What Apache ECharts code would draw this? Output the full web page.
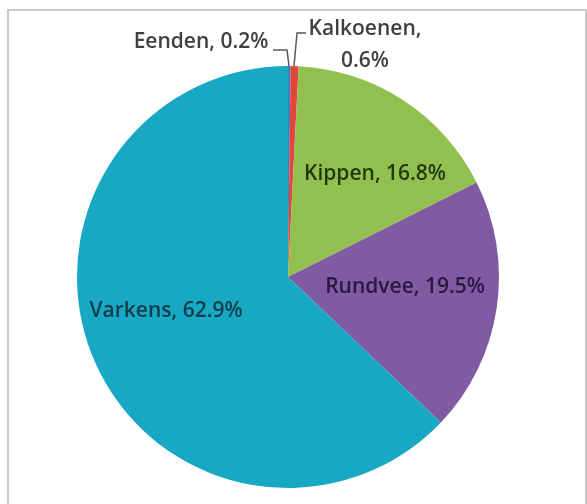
<!DOCTYPE html>
<html><head><meta charset="utf-8">
<script src="https://cdn.jsdelivr.net/npm/echarts@6/dist/echarts.min.js"></script>
<style>html,body{margin:0;padding:0;background:#fff}#c{width:587px;height:504px}</style>
</head><body><div id="c"></div>
<script>
const categories = ['Eenden', 'Kalkoenen', 'Kippen', 'Rundvee', 'Varkens'];
const values = [0.2, 0.6, 16.8, 19.5, 62.9];

const colors = ['#3d7fc0', '#e0463a', '#92c050', '#805aa2', '#18a8c4'];
const labelColors = ['#404040', '#404040', '#1f3a0e', '#2a1840', '#0f3d4c'];
const outsideLabels = ['Eenden', 'Kalkoenen'];
const labelPositions = { Eenden: [201, 42], Kalkoenen: [365, 45], Kippen: [375, 174], Rundvee: [405, 287], Varkens: [166, 311] };
const leaderLines = { Eenden: [[289, 66], [287, 50], [273, 50]], Kalkoenen: [[294, 66], [297, 33], [306, 33]] };

const chart = echarts.init(document.getElementById('c'), null, { renderer: 'canvas' });
const data = categories.map((name, i) => {
  const outside = outsideLabels.includes(name);
  return {
    name: name,
    value: values[i],
    itemStyle: { color: colors[i] },
    label: {
      position: outside ? 'outside' : 'inside',
      color: labelColors[i],
      formatter: name === 'Kalkoenen' ? '{b},\n{c}%' : '{b}, {c}%',
      lineHeight: 32
    },
    labelLine: { show: outside, length: 10, length2: 10, lineStyle: { color: '#595959', width: 1.5 } }
  };
});

chart.setOption({
  animation: false,
  graphic: [{
    type: 'rect', shape: { x: 8, y: 10, width: 578, height: 510 },
    style: { fill: 'none', stroke: '#c8c8c8', lineWidth: 2 }, silent: true
  }],
  series: [{
    type: 'pie',
    center: [288, 277],
    radius: 211,
    startAngle: 90,
    clockwise: true,
    avoidLabelOverlap: false,
    emphasis: { disabled: true },
    itemStyle: { borderWidth: 0 },
    label: { fontFamily: 'Open Sans', fontSize: 21, fontWeight: 600 },
    labelLayout: function (params) {
      const name = categories[params.dataIndex];
      const p = labelPositions[name];
      const res = { x: p[0], y: p[1], align: 'center', verticalAlign: 'middle' };
      if (leaderLines[name]) res.labelLinePoints = leaderLines[name];
      return res;
    },
    data: data
  }]
});
</script></body></html>
